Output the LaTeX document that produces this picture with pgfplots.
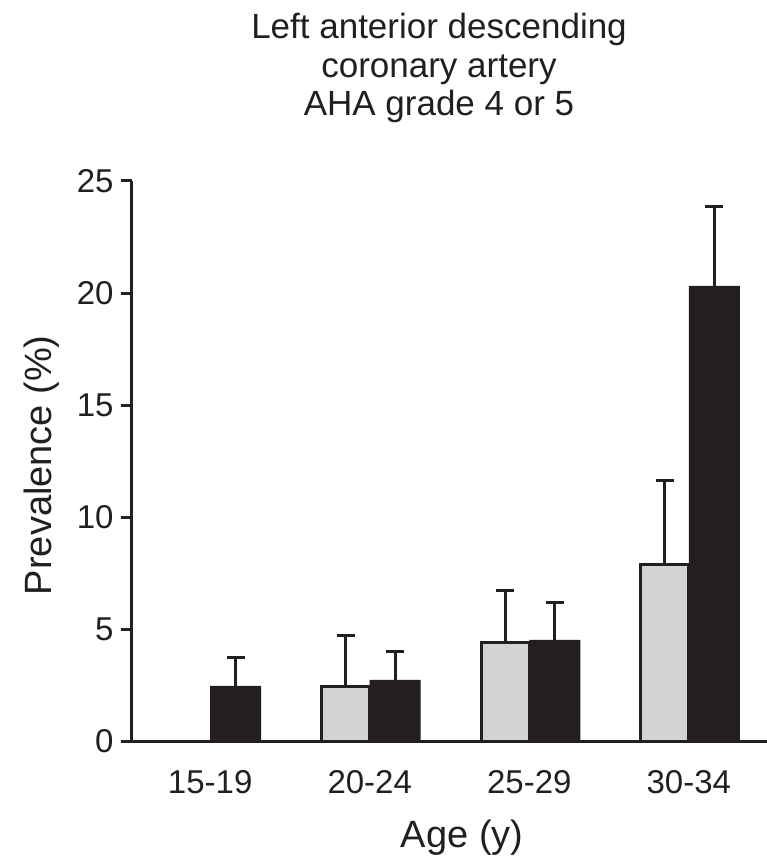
\documentclass[border=0pt]{standalone}
\usepackage{fontspec}
\setmainfont{Liberation Sans}
\usepackage{pgfplots}
\usepackage{pgfplotstable}
\pgfplotsset{compat=1.18}
\definecolor{barblack}{HTML}{231F20}
\definecolor{bargray}{HTML}{D1D3D4}
\pgfplotstableread{
x y e
1 2.44 2.31
2 4.41 2.31
3 7.91 3.71
}\graydata
\pgfplotstableread{
x y e
0 2.48 1.25
1 2.75 1.25
2 4.53 1.66
3 20.32 3.55
}\blackdata
\begin{document}
\begin{tikzpicture}
\begin{axis}[
  scale only axis,
  width=635pt, height=560.5pt,
  xmin=-0.49, xmax=3.49,
  ymin=0, ymax=25,
  ybar,
  axis x line=bottom, axis y line=left,
  axis line style={line width=3pt, color=barblack, -},
  xtick={0,1,2,3},
  xticklabels={15-19,20-24,25-29,30-34},
  x tick style={draw=none},
  ytick={0,5,10,15,20,25},
  y tick style={line width=3pt, color=barblack},
  tick align=outside,
  major tick length=11pt,
  /pgf/number format/assume math mode=true,
  tick label style={font=\fontsize{33}{38}\selectfont, color=barblack},
  yticklabel style={xshift=-4pt},
  xticklabel style={yshift=-14pt},
  clip=false,
]
\addplot[bar width=48pt, bar shift=-24pt, fill=bargray, draw=barblack, line width=3pt,
  error bars/.cd, y dir=plus, y explicit,
  error bar style={line width=3pt, color=barblack},
  error mark options={rotate=90, mark size=9pt, line width=3pt, color=barblack}]
  table[x=x, y=y, y error=e] {\graydata};
\addplot[bar width=51pt, bar shift=25.5pt, fill=barblack, draw=none,
  error bars/.cd, y dir=plus, y explicit,
  error bar style={line width=3pt, color=barblack},
  error mark options={rotate=90, mark size=9pt, line width=3pt, color=barblack}]
  table[x=x, y=y, y error=e] {\blackdata};
\coordinate (O) at (rel axis cs:0,0);
\node[anchor=base, font=\fontsize{35}{40}\selectfont, color=barblack] at (rel axis cs:0.4835,1.255) {Left anterior descending};
\node[anchor=base, font=\fontsize{35}{40}\selectfont, color=barblack] at (rel axis cs:0.4835,1.184) {coronary artery};
\node[anchor=base, font=\fontsize{35}{40}\selectfont, color=barblack] at (rel axis cs:0.4835,1.117) {AHA grade 4 or 5};
\node[rotate=90, anchor=center, font=\fontsize{38}{44}\selectfont, color=barblack] at (rel axis cs:-0.1417,0.493) {Prevalence (\%)};
\node[anchor=center, font=\fontsize{38}{44}\selectfont, color=barblack] at (rel axis cs:0.52,-0.172) {Age (y)};
\end{axis}
\pgfresetboundingbox
\path (O) ++(-132pt,-121.5pt) rectangle ++(767pt,863pt);
\end{tikzpicture}
\end{document}
